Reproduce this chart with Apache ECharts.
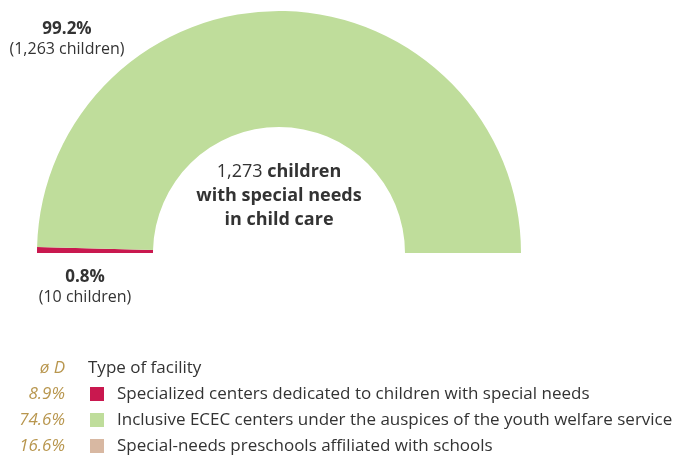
<!DOCTYPE html>
<html>
<head>
<meta charset="utf-8">
<script src="https://cdn.jsdelivr.net/npm/echarts@6/dist/echarts.min.js"></script>
<style>
  html, body { margin: 0; padding: 0; background: #fff; }
  #main { width: 675px; height: 458px; }
</style>
</head>
<body>
<div id="main"></div>
<script>
// Facility types and the chart's counts
const facilityNames = [
    'Specialized centers dedicated to children with special needs',
    'Inclusive ECEC centers under the auspices of the youth welfare service',
    'Special-needs preschools affiliated with schools'
];
const childCounts = [10, 1263, 0];
const avgShares = ['8.9%', '74.6%', '16.6%'];
const sliceColors = ['#C9184F', '#BFDD9B', '#D8B8A2'];

const total = childCounts.reduce((a, b) => a + b, 0);
const pct = (v) => (v / total * 100).toFixed(1) + '%';
const fmt = (v) => v.toLocaleString('en-US');

let myChart = echarts.init(document.getElementById('main'));
const font = '"Open Sans", "Noto Sans", sans-serif';
const gold = '#B8964E';

// Multi-line label, centered on x
function centerLabel(x, y, text, size, boldSize, lh) {
    return {
        type: 'text', x: x, y: y,
        style: {
            text: text, fontFamily: font, fontSize: size, fill: '#333',
            align: 'center', verticalAlign: 'top', lineHeight: lh,
            rich: {
                n: { fontFamily: font, fontSize: size, fill: '#333', align: 'center', lineHeight: lh },
                b: { fontFamily: font, fontSize: boldSize, fontWeight: 'bold', fill: '#333', align: 'center', lineHeight: lh }
            }
        }
    };
}

// Left column with average shares
let shareTexts = ['ø D', ...avgShares].map((s, i) => ({
    type: 'text', x: 65, y: 368 + i * 26,
    style: {
        text: s, fontFamily: font, fontStyle: 'italic', fontSize: 17, fill: gold,
        align: 'right', verticalAlign: 'middle'
    }
}));

let option = {
    textStyle: { fontFamily: font },
    legend: {
        orient: 'vertical',
        left: 90,
        top: 383,
        padding: 0,
        itemWidth: 14,
        itemHeight: 14,
        itemGap: 4,
        icon: 'rect',
        selectedMode: false,
        textStyle: { fontSize: 17, color: '#333', fontFamily: font, padding: [0, 0, 0, 8], lineHeight: 22 },
        data: facilityNames
    },
    series: [{
        type: 'pie',
        center: [279, 253],
        radius: [126, 242],
        startAngle: 180,
        endAngle: 0,
        clockwise: true,
        silent: true,
        label: { show: false },
        labelLine: { show: false },
        itemStyle: { borderWidth: 0 },
        data: facilityNames.map((n, i) => ({
            name: n, value: childCounts[i], itemStyle: { color: sliceColors[i] }
        }))
    }],
    graphic: [
        ...shareTexts,
        {
            type: 'text', x: 88, y: 368,
            style: { text: 'Type of facility', fontFamily: font, fontSize: 17, fill: '#333', verticalAlign: 'middle' }
        },
        centerLabel(67, 19, '{b|' + pct(childCounts[1]) + '}\n{n|(' + fmt(childCounts[1]) + ' children)}', 16, 17, 20),
        centerLabel(85, 267, '{b|' + pct(childCounts[0]) + '}\n{n|(' + fmt(childCounts[0]) + ' children)}', 16, 17, 20),
        centerLabel(279, 160, '{n|' + fmt(total) + '} {b|children}\n{b|with special needs}\n{b|in child care}', 18, 18, 24)
    ]
};

option && myChart.setOption(option);
</script>
</body>
</html>
